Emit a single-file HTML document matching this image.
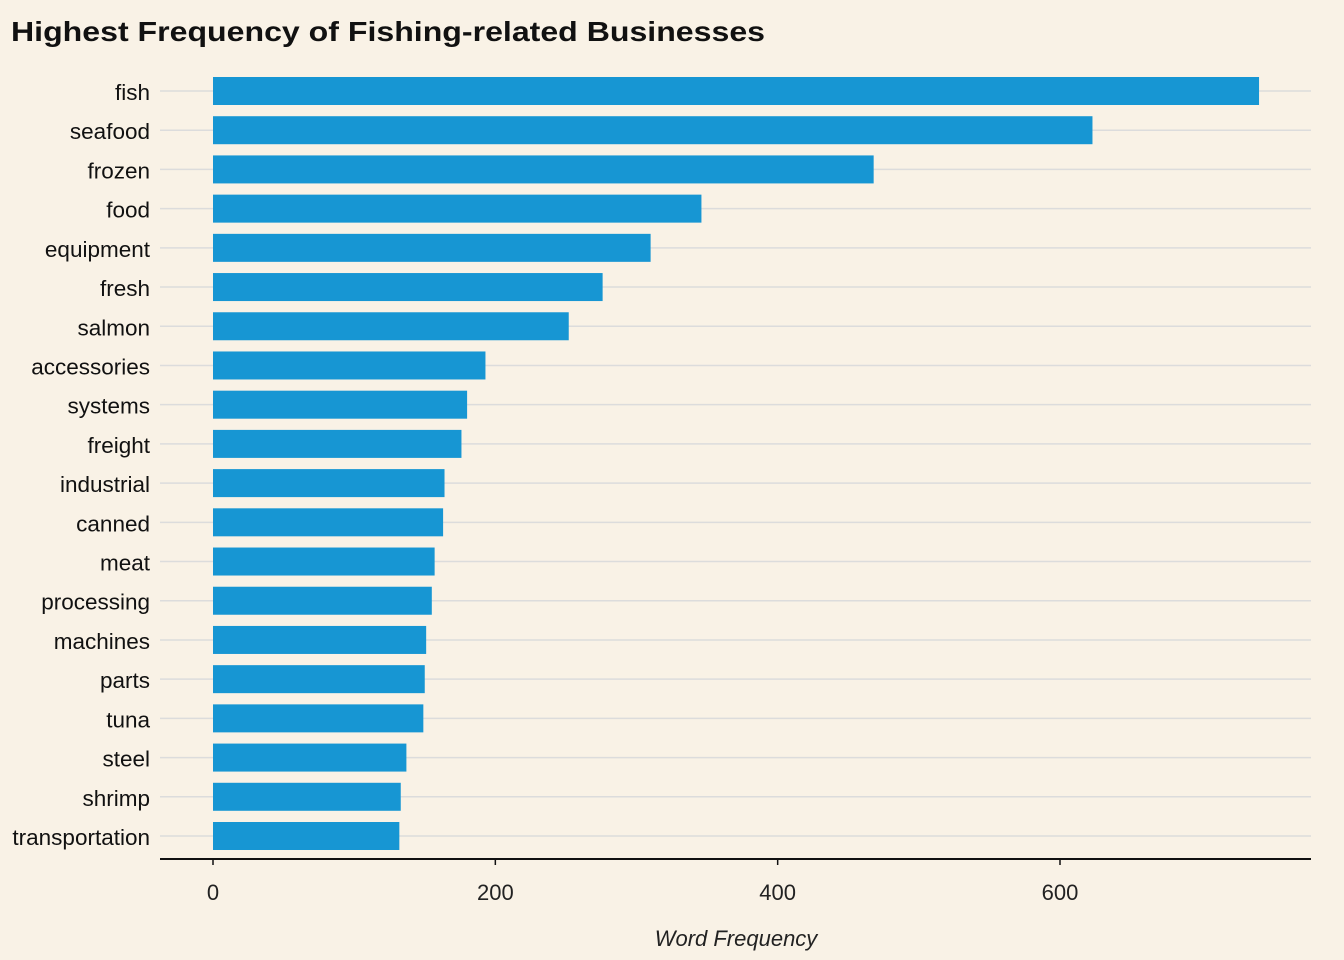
<!DOCTYPE html>
<html><head><meta charset="utf-8"><style>
body{margin:0;background:#f9f2e6;}
svg{display:block;font-family:"Liberation Sans",Arial,sans-serif;}
</style></head><body>
<svg id="chart" width="1344" height="960" viewBox="0 0 1344 960">
<rect width="1344" height="960" fill="#f9f2e6"/>
<text x="11" y="41" font-size="28" font-weight="bold" fill="#111" textLength="754" lengthAdjust="spacingAndGlyphs">Highest Frequency of Fishing-related Businesses</text>
<g id="grid"></g><g id="bars"></g><g id="ylabels"></g><g id="xaxis"></g>
<text x="736" y="946" font-size="22" font-style="italic" text-anchor="middle" fill="#222">Word Frequency</text>
</svg>
<script>
const categories=["fish","seafood","frozen","food","equipment","fresh","salmon","accessories","systems","freight","industrial","canned","meat","processing","machines","parts","tuna","steel","shrimp","transportation"];
const values=[741,623,468,346,310,276,252,193,180,176,164,163,157,155,151,150,149,137,133,132];
const xTicks=[0,200,400,600];
const NS="http://www.w3.org/2000/svg";
const x=v=>213+v*(1060-213)/600;
const y=i=>91+i*(836-91)/(categories.length-1);
function mk(t,a,p){const e=document.createElementNS(NS,t);for(const k in a)e.setAttribute(k,a[k]);p.appendChild(e);return e;}
const grid=document.getElementById('grid'),bars=document.getElementById('bars'),yl=document.getElementById('ylabels'),xa=document.getElementById('xaxis');
categories.forEach((c,i)=>{
 const g=mk('line',{x1:160,x2:1311,y1:y(i),y2:y(i),stroke:'#dcdcdc','stroke-width':1.5},grid);
 
 
 const b=mk('rect',{x:x(0),y:y(i)-14,width:x(values[i])-x(0),height:28,fill:'#1796d3'},bars);
 
 
 const t=mk('text',{x:150,y:y(i)+9,'font-size':22.5,'text-anchor':'end',fill:'#111'},yl);
 t.textContent=c;
 
 
});
const ax=mk('line',{x1:160,x2:1311,y1:859,y2:859,stroke:'#111','stroke-width':2},xa);


xTicks.forEach(v=>{
 const tk=mk('line',{x1:x(v),x2:x(v),y1:859,y2:865,stroke:'#111','stroke-width':1.5},xa);
 
 
 const t=mk('text',{x:x(v),y:900,'font-size':22,'text-anchor':'middle',fill:'#222'},xa);
 t.textContent=v;
 
 
});
</script>
</body></html>
